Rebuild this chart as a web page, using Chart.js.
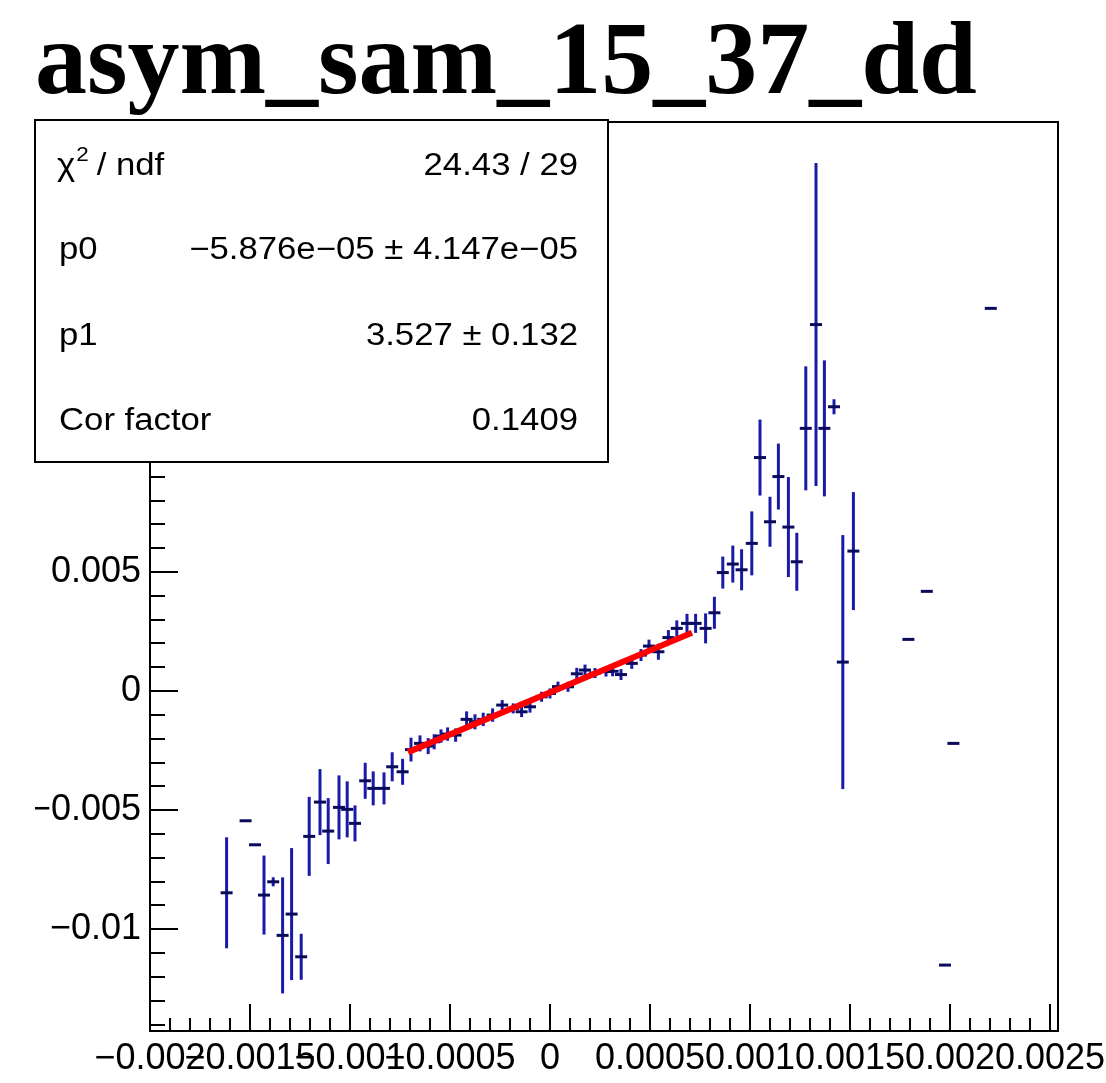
<!DOCTYPE html>
<html>
<head>
<meta charset="utf-8">
<script src="https://cdn.jsdelivr.net/npm/chart.js@4.4.1/dist/chart.umd.min.js"></script>
<style>
    body { margin: 0; background: #fff; }
    #wrap { width: 1106px; height: 1083px; }
</style>
</head>
<body>
<div id="wrap"><canvas id="plot" width="1106" height="1083"></canvas></div>
<script>
// titre et contenu de la boite de stats
const chartTitle = 'asym_sam_15_37_dd';
const statLabels = ['/ ndf', 'p0', 'p1', 'Cor factor'];
const statValues = ['24.43 / 29', '\u22125.876e\u221205 \u00b1 4.147e\u221205', '3.527 \u00b1 0.132', '0.1409'];

const xVals = [
    -0.001617, -0.001522, -0.001475, -0.00143, -0.001384, -0.001337, -0.001292, -0.001244, -0.001204, -0.00115,
    -0.001109, -0.001055, -0.001014, -0.000975, -0.000924, -0.000884, -0.00083, -0.000789, -0.000737, -0.000695,
    -0.00065, -0.000609, -0.000579, -0.000545, -0.000512, -0.000472, -0.000417, -0.000375, -0.000334, -0.000287,
    -0.000239, -0.000184, -0.000142, -0.0001, -0.000042, 0.0, 0.00004, 0.00009, 0.000134, 0.000175,
    0.000225, 0.00028, 0.000313, 0.000355, 0.000409, 0.000455, 0.000495, 0.000542, 0.000592, 0.000634,
    0.000685, 0.000728, 0.000778, 0.000822, 0.000864, 0.000914, 0.000958, 0.001009, 0.00105, 0.0011,
    0.001142, 0.001192, 0.001234, 0.001279, 0.00133, 0.001372, 0.00142, 0.001464, 0.001517, 0.001792,
    0.001884, 0.001975, 0.002017, 0.002204
];
const yVals = [
    -0.008468, -0.005445, -0.006453, -0.008564, -0.008006, -0.010256, -0.009362, -0.011155, -0.0061, -0.00466,
    -0.005878, -0.004883, -0.004966, -0.005554, -0.003766, -0.004085, -0.004085, -0.003178, -0.003388, -0.002456,
    -0.002196, -0.002309, -0.002128, -0.001889, -0.001805, -0.001847, -0.001188, -0.001289, -0.001188, -0.001008,
    -0.000588, -0.000726, -0.000869, -0.000659, -0.000239, -0.0001, 0.000189, 0.00018, 0.000726, 0.000882,
    0.000756, 0.000819, 0.000831, 0.000693, 0.001163, 0.001511, 0.001889, 0.00165, 0.002246, 0.002632,
    0.002842, 0.002842, 0.002632, 0.003287, 0.004975, 0.005332, 0.005092, 0.006201, 0.009803, 0.007108,
    0.009005, 0.006885, 0.005428, 0.011029, 0.015386, 0.011029, 0.011936, 0.001217, 0.005877, 0.00217,
    0.004186, -0.011503, -0.002196, 0.016066
];
const yErrs = [
    0.00233, 0, 0, 0.001658, 0.000189, 0.002435, 0.002771, 0.000966, 0.001658, 0.001385,
    0.001385, 0.001343, 0.001176, 0.000756, 0.000756, 0.000714, 0.000672, 0.000609, 0.000546, 0.0005,
    0.000336, 0.000336, 0.000315, 0.00028, 0.00028, 0.00028, 0.000336, 0.000315, 0.00028, 0.00028,
    0.00021, 0.00021, 0.000223, 0.000245, 0.00021, 0.00021, 0.00021, 0.00021, 0.00025, 0.00023,
    0.00021, 0.00021, 0.00021, 0.00023, 0.00023, 0.00025, 0.00027, 0.000336, 0.000315, 0.000336,
    0.0004, 0.0004, 0.00063, 0.000672, 0.000672, 0.000777, 0.000861, 0.001343, 0.001595, 0.00105,
    0.001385, 0.002099, 0.001217, 0.002603, 0.00678, 0.002855, 0.000315, 0.005332, 0.002477, 0,
    0, 0, 0, 0
];
const xErrs = [
    0.00003, 0.00003, 0.00003, 0.00003, 0.00003, 0.00003, 0.00003, 0.00003, 0.00003, 0.00003,
    0.00003, 0.00003, 0.00003, 0.00003, 0.00003, 0.00003, 0.00003, 0.00003, 0.00003, 0.00003,
    0.00003, 0.00003, 0.00003, 0.00003, 0.00003, 0.00003, 0.00003, 0.00003, 0.00003, 0.00003,
    0.00003, 0.00003, 0.00003, 0.00003, 0.00003, 0.00003, 0.00003, 0.00003, 0.00003, 0.00003,
    0.00003, 0.00003, 0.00003, 0.00003, 0.00003, 0.00003, 0.00003, 0.00003, 0.00003, 0.00003,
    0.00003, 0.00003, 0.00003, 0.00003, 0.00003, 0.00003, 0.00003, 0.00003, 0.00003, 0.00003,
    0.00003, 0.00003, 0.00003, 0.00003, 0.00003, 0.00003, 0.00003, 0.00003, 0.00003, 0.00003,
    0.00003, 0.00003, 0.00003, 0.00003
];

// droite ajustee (p0 + p1*x) sur la zone du fit
const fitX = [-0.00071, 0.00071];
const fitY = [-0.002563, 0.002445];

// graduations
const xTickVals = [-0.002, -0.0015, -0.001, -0.0005, 0, 0.0005, 0.001, 0.0015, 0.002, 0.0025];
const xTickLabels = ['\u22120.002', '\u22120.0015', '\u22120.001', '\u22120.0005', '0', '0.0005', '0.001', '0.0015', '0.002', '0.0025'];
const yTickVals = [-0.01, -0.005, 0, 0.005, 0.01, 0.015, 0.02];
const yTickLabels = ['\u22120.01', '\u22120.005', '0', '0.005', '0.01', '0.015', '0.02'];

const X_MIN = -0.002, X_MAX = 0.00254;
const Y_MIN = -0.01427, Y_MAX = 0.02389;

// barres d'erreur dessinees avec les echelles du graphe
const errorBars = {
    id: 'errorBars',
    beforeDatasetsDraw(chart) {
        const {ctx, chartArea} = chart;
        const sx = chart.scales.x, sy = chart.scales.y;
        ctx.save();
        ctx.beginPath();
        ctx.rect(chartArea.left, chartArea.top, chartArea.right - chartArea.left, chartArea.bottom - chartArea.top);
        ctx.clip();
        ctx.lineWidth = 3;
        for (let i = 0; i < xVals.length; i++) {
            const px = sx.getPixelForValue(xVals[i]);
            const py = sy.getPixelForValue(yVals[i]);
            if (yErrs[i] > 0) {
                ctx.strokeStyle = '#1a1aa8';
                ctx.beginPath();
                ctx.moveTo(px, sy.getPixelForValue(yVals[i] - yErrs[i]));
                ctx.lineTo(px, sy.getPixelForValue(yVals[i] + yErrs[i]));
                ctx.stroke();
            }
            ctx.strokeStyle = '#0b0b5e';
            ctx.beginPath();
            ctx.moveTo(sx.getPixelForValue(xVals[i] - xErrs[i]), py);
            ctx.lineTo(sx.getPixelForValue(xVals[i] + xErrs[i]), py);
            ctx.stroke();
        }
        ctx.restore();
    }
};

// cadre + petites graduations vers l'interieur (style ROOT)
const frameTicks = {
    id: 'frameTicks',
    afterDatasetsDraw(chart) {
        const {ctx, chartArea} = chart;
        const sx = chart.scales.x, sy = chart.scales.y;
        ctx.save();
        ctx.strokeStyle = '#000';
        ctx.lineWidth = 2;
        ctx.strokeRect(chartArea.left, chartArea.top, chartArea.right - chartArea.left, chartArea.bottom - chartArea.top);
        ctx.beginPath();
        for (let k = -20; k <= 25; k++) {
            const v = k * 0.0001;
            if (v < X_MIN - 1e-9 || v > X_MAX) continue;
            const px = Math.round(sx.getPixelForValue(v));
            const len = (k % 5 === 0) ? 27 : 13;
            ctx.moveTo(px, chartArea.bottom);
            ctx.lineTo(px, chartArea.bottom - len);
        }
        for (let k = -14; k <= 23; k++) {
            const v = k * 0.001;
            if (v < Y_MIN || v > Y_MAX) continue;
            const py = Math.round(sy.getPixelForValue(v));
            const len = (k % 5 === 0) ? 28 : 15;
            ctx.moveTo(chartArea.left, py);
            ctx.lineTo(chartArea.left + len, py);
        }
        ctx.stroke();
        ctx.restore();
    }
};

// texte un peu elargi comme dans la sortie ROOT
function wideText(ctx, txt, x, y, align) {
    const sw = 1.12;
    ctx.save();
    ctx.translate(x, y);
    ctx.scale(sw, 1);
    ctx.textAlign = align;
    ctx.fillText(txt, 0, 0);
    ctx.restore();
    return ctx.measureText(txt).width * sw;
}

// boite de statistiques du fit
const statsBox = {
    id: 'statsBox',
    afterDraw(chart) {
        const ctx = chart.ctx;
        const left = 35, top = 120, w = 573, h = 342;
        const rowsY = [166, 250, 336, 421];
        ctx.save();
        ctx.fillStyle = '#fff';
        ctx.fillRect(left, top, w, h);
        ctx.strokeStyle = '#000';
        ctx.lineWidth = 2;
        ctx.strokeRect(left, top, w, h);
        ctx.fillStyle = '#000';
        ctx.textBaseline = 'middle';
        ctx.font = '31px "Liberation Sans"';
        // chi2 / ndf avec exposant
        let x0 = 57;
        x0 += wideText(ctx, '\u03c7', x0, rowsY[0], 'left') + 1;
        ctx.font = '20px "Liberation Sans"';
        x0 += wideText(ctx, '2', x0, rowsY[0] - 11, 'left') + 8;
        ctx.font = '31px "Liberation Sans"';
        wideText(ctx, statLabels[0], x0, rowsY[0], 'left');
        for (let i = 1; i < statLabels.length; i++) {
            wideText(ctx, statLabels[i], 59, rowsY[i], 'left');
        }
        for (let i = 0; i < statValues.length; i++) {
            wideText(ctx, statValues[i], 578, rowsY[i], 'right');
        }
        ctx.restore();
    }
};

const points = xVals.map((x, i) => ({x: x, y: yVals[i]}));
const fitLine = fitX.map((x, i) => ({x: x, y: fitY[i]}));

const ctx = document.getElementById('plot').getContext('2d');
new Chart(ctx, {
    type: 'scatter',
    data: {
        datasets: [{
            label: 'asym',
            data: points,
            pointRadius: 0,
            pointHoverRadius: 0
        }, {
            label: 'fit',
            data: fitLine,
            showLine: true,
            borderColor: '#ff0000',
            borderWidth: 6,
            pointRadius: 0
        }]
    },
    options: {
        responsive: false,
        animation: false,
        devicePixelRatio: 1,
        layout: {padding: {left: 35, right: 48, top: 0, bottom: 0}},
        plugins: {
            legend: {display: false},
            tooltip: {enabled: false},
            title: {
                display: true,
                text: chartTitle,
                align: 'start',
                color: '#000',
                font: {family: '"Liberation Serif"', size: 104, weight: 'bold', lineHeight: 1},
                padding: {top: 14, bottom: 4}
            }
        },
        scales: {
            x: {
                type: 'linear',
                min: X_MIN,
                max: X_MAX,
                afterBuildTicks: s => { s.ticks = xTickVals.map(v => ({value: v})); },
                afterFit: s => { s.height = 52; s.paddingLeft = 0; s.paddingRight = 0; },
                grid: {display: false, drawTicks: false},
                border: {display: false},
                ticks: {
                    autoSkip: false,
                    maxRotation: 0,
                    minRotation: 0,
                    padding: 6,
                    color: '#000',
                    font: {family: '"Liberation Sans"', size: 36},
                    callback: (v, i) => xTickLabels[i]
                }
            },
            y: {
                type: 'linear',
                min: Y_MIN,
                max: Y_MAX,
                afterBuildTicks: s => { s.ticks = yTickVals.map(v => ({value: v})); },
                afterFit: s => { s.width = 115; s.paddingTop = 0; s.paddingBottom = 0; },
                grid: {display: false, drawTicks: false},
                border: {display: false},
                ticks: {
                    autoSkip: false,
                    padding: 9,
                    color: '#000',
                    font: {family: '"Liberation Sans"', size: 36},
                    callback: (v, i) => yTickLabels[i]
                }
            }
        }
    },
    plugins: [errorBars, frameTicks, statsBox]
});
</script>
</body>
</html>
